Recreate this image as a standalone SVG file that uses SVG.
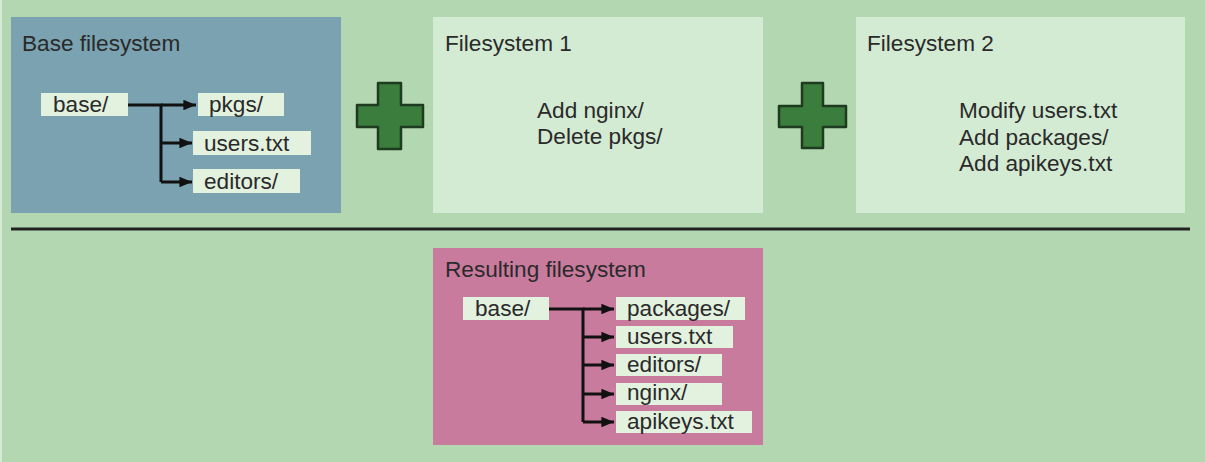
<svg xmlns="http://www.w3.org/2000/svg" width="1205" height="462" viewBox="0 0 1205 462">
<defs>
<style>
text{font-family:"Liberation Sans",Arial,sans-serif;font-size:22.6px;fill:#2a2a2a}
.lbl{fill:#e3f1df}
.conn{fill:none;stroke:#111;stroke-width:3}
.plus{fill:#3a7d3c;stroke:#1e3a1f;stroke-width:2.5;stroke-linejoin:round}
</style>
<marker id="ah" viewBox="0 0 12 10" refX="12" refY="5" markerWidth="4.2" markerHeight="3.6" markerUnits="strokeWidth" orient="auto">
<path d="M0,0 L12,5 L0,10 z" fill="#111"/>
</marker>
</defs>
<rect x="0" y="0" width="1205" height="462" fill="#b3d7b0"/>
<rect x="0" y="0" width="2" height="462" fill="#d6e9d3"/>

<g id="base-fs">
<rect x="11" y="17" width="330" height="196" fill="#7aa2b0"/>
<text x="22" y="51">Base filesystem</text>
<rect class="lbl" x="41" y="93" width="87" height="23"/>
<text x="53" y="112">base/</text>
<rect class="lbl" x="198" y="93" width="86" height="23"/>
<text x="209" y="112">pkgs/</text>
<rect class="lbl" x="193" y="131" width="118" height="24"/>
<text x="204" y="151">users.txt</text>
<rect class="lbl" x="193" y="169" width="107" height="24"/>
<text x="204" y="189">editors/</text>
</g>

<g id="plus1">
<path class="plus" d="M378,83 H401 V105 H423 V127 H401 V149 H378 V127 H357 V105 H378 Z"/>
</g>

<g id="fs1">
<rect x="433" y="17" width="330" height="196" fill="#d4ebd3"/>
<text x="445" y="51">Filesystem 1</text>
<text x="537" y="118">Add nginx/</text>
<text x="537" y="144">Delete pkgs/</text>
</g>

<g id="plus2">
<path class="plus" d="M802,83 H823 V106 H846 V127 H823 V148 H802 V127 H779 V106 H802 Z"/>
</g>

<g id="fs2">
<rect x="856" y="17" width="329" height="196" fill="#d4ebd3"/>
<text x="867" y="51">Filesystem 2</text>
<text x="959" y="118">Modify users.txt</text>
<text x="959" y="145">Add packages/</text>
<text x="959" y="171">Add apikeys.txt</text>
</g>

<g id="separator">
<line x1="11" y1="229" x2="1190" y2="229" stroke="#222" stroke-width="3"/>
</g>

<g id="result-fs">
<rect x="433" y="248" width="330" height="197" fill="#c97b9e"/>
<text x="445" y="277">Resulting filesystem</text>
<rect class="lbl" x="463" y="297" width="86" height="23"/>
<text x="475" y="316">base/</text>
<rect class="lbl" x="616" y="297" width="129" height="23"/>
<text x="627" y="316">packages/</text>
<rect class="lbl" x="616" y="326" width="117" height="22"/>
<text x="627" y="344">users.txt</text>
<rect class="lbl" x="616" y="354" width="106" height="22"/>
<text x="627" y="372">editors/</text>
<rect class="lbl" x="616" y="383" width="106" height="22"/>
<text x="627" y="400">nginx/</text>
<rect class="lbl" x="616" y="411" width="136" height="22"/>
<text x="627" y="429">apikeys.txt</text>
</g>

<g id="connectors">
<path class="conn" d="M128,105 H161 V182"/>
<line class="conn" x1="161" y1="105" x2="196" y2="105" marker-end="url(#ah)"/>
<line class="conn" x1="161" y1="143" x2="192" y2="143" marker-end="url(#ah)"/>
<line class="conn" x1="161" y1="182" x2="192" y2="182" marker-end="url(#ah)"/>
<path class="conn" d="M549,309 H583 V422"/>
<line class="conn" x1="583" y1="309" x2="614" y2="309" marker-end="url(#ah)"/>
<line class="conn" x1="583" y1="337" x2="614" y2="337" marker-end="url(#ah)"/>
<line class="conn" x1="583" y1="365" x2="614" y2="365" marker-end="url(#ah)"/>
<line class="conn" x1="583" y1="394" x2="614" y2="394" marker-end="url(#ah)"/>
<line class="conn" x1="583" y1="422" x2="614" y2="422" marker-end="url(#ah)"/>
</g>
</svg>
